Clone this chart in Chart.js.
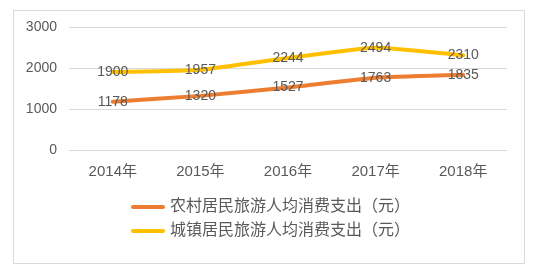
<!DOCTYPE html>
<html>
<head>
<meta charset="utf-8">
<script src="https://cdn.jsdelivr.net/npm/chart.js@4/dist/chart.umd.min.js"></script>
<style>
  html, body { margin: 0; padding: 0; background: #fff; }
  #wrap { width: 541px; height: 264px; }
</style>
</head>
<body>
<div id="wrap"><canvas id="chart" width="541" height="264"></canvas></div>
<script>
const years = ['2014年', '2015年', '2016年', '2017年', '2018年'];
const ruralSpend = [1178, 1320, 1527, 1763, 1835];
const urbanSpend = [1900, 1957, 2244, 2494, 2310];
const seriesNames = ['农村居民旅游人均消费支出（元）', '城镇居民旅游人均消费支出（元）'];
const seriesColors = ['#ED7D31', '#FFC000'];
const yTicks = [0, 1000, 2000, 3000];

const textColor = '#595959';
const fontFamily = '"Liberation Sans", "Noto Sans CJK SC", sans-serif';

const frameAndLabels = {
    id: 'frameAndLabels',
    beforeDraw(chart) {
        const ctx = chart.ctx;
        ctx.save();
        ctx.strokeStyle = '#d9d9d9';
        ctx.lineWidth = 1;
        ctx.strokeRect(13.5, 10.5, 511, 253);
        ctx.restore();
    },
    afterDatasetsDraw(chart) {
        const ctx = chart.ctx;
        ctx.save();
        ctx.font = '14px ' + fontFamily;
        ctx.fillStyle = textColor;
        ctx.textAlign = 'center';
        ctx.textBaseline = 'middle';
        chart.data.datasets.forEach((ds, i) => {
            chart.getDatasetMeta(i).data.forEach((pt, j) => {
                ctx.fillText(String(ds.data[j]), pt.x, pt.y);
            });
        });

        // legend, two rows
        ctx.font = '16px ' + fontFamily;
        ctx.textAlign = 'left';
        ctx.lineCap = 'round';
        ctx.lineWidth = 4;
        const rows = [207, 231];
        chart.data.datasets.forEach((ds, i) => {
            ctx.strokeStyle = ds.borderColor;
            ctx.beginPath();
            ctx.moveTo(133, rows[i]);
            ctx.lineTo(163, rows[i]);
            ctx.stroke();
            ctx.fillText(ds.label, 170, rows[i]);
        });
        ctx.restore();
    }
};

new Chart(document.getElementById('chart'), {
    type: 'line',
    data: {
        labels: years,
        datasets: [
            { label: seriesNames[0], data: ruralSpend, borderColor: seriesColors[0], backgroundColor: seriesColors[0] },
            { label: seriesNames[1], data: urbanSpend, borderColor: seriesColors[1], backgroundColor: seriesColors[1] }
        ]
    },
    options: {
        responsive: false,
        animation: false,
        devicePixelRatio: 1,
        layout: { padding: { top: 27, right: 34, bottom: 0, left: 0 } },
        elements: {
            line: { borderWidth: 4, tension: 0.15, borderCapStyle: 'round' },
            point: { radius: 0, hoverRadius: 0 }
        },
        scales: {
            x: {
                offset: true,
                grid: { display: false, drawTicks: false },
                border: { display: false },
                ticks: { color: textColor, font: { size: 15, family: fontFamily }, padding: 13, maxRotation: 0 },
                afterFit(scale) { scale.height = 114; }
            },
            y: {
                min: 0,
                max: 3000,
                afterBuildTicks(scale) { scale.ticks = yTicks.map(v => ({ value: v })); },
                grid: { color: '#d9d9d9', drawTicks: false },
                border: { display: false },
                ticks: {
                    color: textColor,
                    font: { size: 14, family: fontFamily },
                    padding: 12,
                    callback: function(value) { return String(value); }
                },
                afterFit(scale) { scale.width = 69; }
            }
        },
        plugins: {
            legend: { display: false },
            tooltip: { enabled: false }
        }
    },
    plugins: [frameAndLabels]
});
</script>
</body>
</html>
